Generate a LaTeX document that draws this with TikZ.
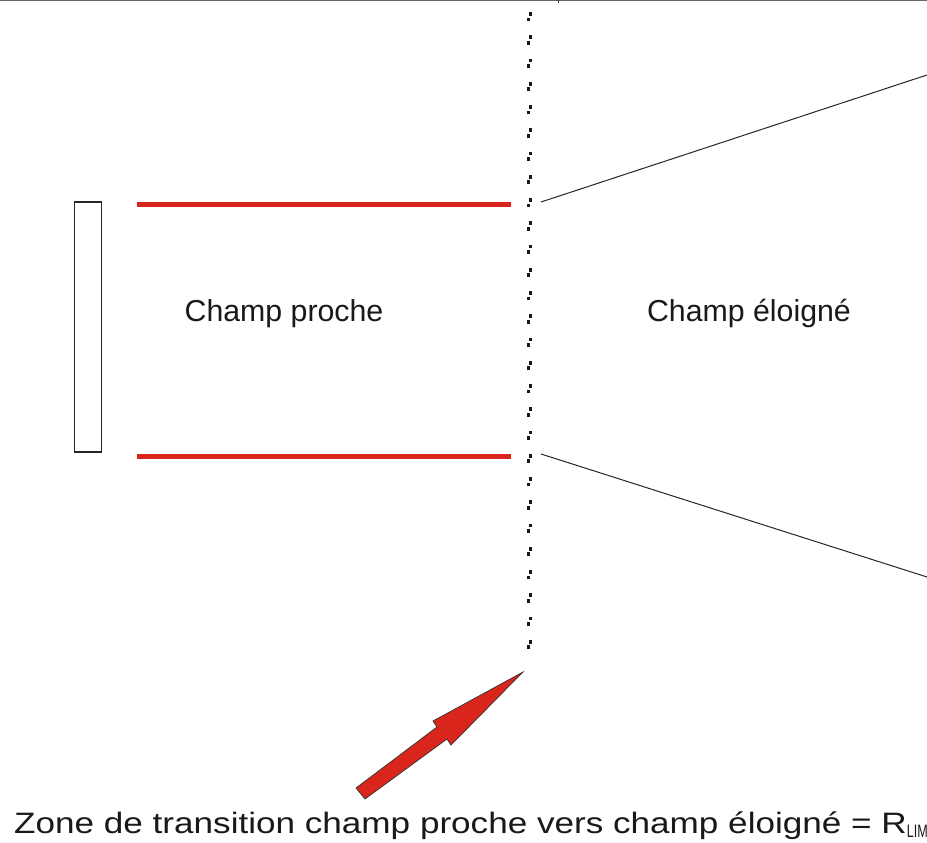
\documentclass[tikz,border=0pt]{standalone}
\usepackage{fontspec}
\setmainfont{Liberation Sans}
\begin{document}
\begin{tikzpicture}[x=1pt,y=-1pt,
  redline/.style={draw=arrowred,line width=4.5pt},
  thinline/.style={draw=black!85,line width=1pt},
  label/.style={inner sep=0pt,font=\fontsize{30.3}{34}\selectfont,text=black!90},
  captiontext/.style={inner sep=0pt,font=\fontsize{29.5}{34}\selectfont,text=black!90},
  dotsq/.style={fill=black!90,minimum size=3.6pt,inner sep=0pt,draw=none}]
\definecolor{arrowred}{RGB}{218,37,29}
\useasboundingbox (0,0) rectangle (927,843);
\fill[white] (0,0) rectangle (927,843);
% frame edge along the top
\draw[black!60,line width=1.2pt] (0,0.6) -- (927,0.6);
\draw[black!80,line width=0.8pt] (558,0) -- (558,3);
% antenna panel
\node[draw=black!85,line width=1.2pt,minimum width=27pt,minimum height=250pt,inner sep=0pt]
  (panel) at (88,327) {};
% near-field boundaries
\coordinate (nt0) at (137,204.5);
\coordinate (nt1) at (511,204.5);
\coordinate (nb0) at (137,456.5);
\coordinate (nb1) at (511,456.5);
\draw[redline] (nt0) -- (nt1);
\draw[redline] (nb0) -- (nb1);
% far-field divergence
\coordinate (ft0) at (541,202);
\coordinate (ft1) at (927,75);
\coordinate (fb0) at (541,454);
\coordinate (fb1) at (927,577);
\draw[thinline] (ft0) -- (ft1);
\draw[thinline] (fb0) -- (fb1);
% transition boundary, drawn as pairs of dots
\foreach \k in {0,...,27}{
  \node[dotsq] at (530.5,{14+\k*23.25}) {};
  \node[dotsq] at (528.5,{19.5+\k*23.25}) {};
}
% region labels
\node[label,anchor=base] (near) at (284,321) {Champ proche};
\node[label,anchor=base] (far) at (749,321) {Champ éloigné};
% pointer to the transition zone
\coordinate (tip) at (523,672);
\draw[fill=arrowred,draw=black!80,line width=0.7pt,line join=miter]
  (356,788) -- (437,727) -- (433,721) -- (tip) -- (451,745) -- (447,739) -- (365,799) -- cycle;
% caption
\node[captiontext,anchor=base west] (caption) at (14,833)
  {\scalebox{1.19}[1]{Zone de transition champ proche vers champ éloigné = R}\raisebox{-4pt}{\scalebox{0.7}[1]{\fontsize{18}{20}\selectfont LIM}}};
\end{tikzpicture}
\end{document}
